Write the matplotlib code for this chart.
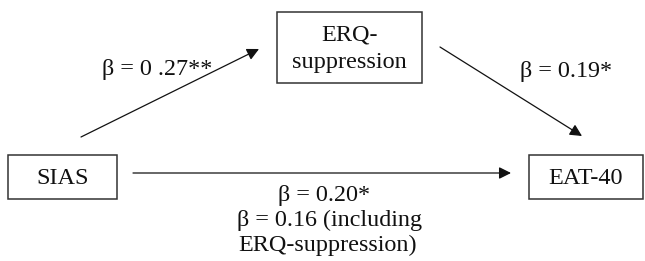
import matplotlib.pyplot as plt

# node labels and path coefficients
nodes = ["SIAS", "ERQ-\nsuppression", "EAT-40"]
beta_a = "0 .27**"
beta_b = "0.19*"
beta_c = "0.20*"
beta_c_prime = "0.16"
mediator_note = "(including\nERQ-suppression)"

plt.rcParams['font.family'] = ['Liberation Serif', 'DejaVu Serif']

fig = plt.figure(figsize=(6.45, 2.61), dpi=100)
ax = fig.add_axes([0, 0, 1, 1])
ax.set_xlim(0, 645)
ax.set_ylim(261, 0)
ax.axis('off')

# boxes: (x0, y0, x1, y1) in pixel coords
boxes = [(8, 155, 117, 199), (277, 12, 422, 83), (529, 155, 643, 199)]
for (x0, y0, x1, y1), name in zip(boxes, nodes):
    ax.add_patch(plt.Rectangle((x0, y0), x1 - x0, y1 - y0, fill=False,
                               ec='#333333', lw=1.1))
    ax.text((x0 + x1) / 2, (y0 + y1) / 2 + 1, name, ha='center', va='center',
            fontsize=17.5, linespacing=1.4, color='#111111')

arrow = dict(arrowstyle='-|>', mutation_scale=18, lw=0.9, color='#111111',
             shrinkA=0, shrinkB=0)
ax.annotate("", xy=(259, 49), xytext=(81, 137), arrowprops=arrow)
ax.annotate("", xy=(582, 136), xytext=(440, 47), arrowprops=arrow)
ax.annotate("", xy=(511, 173), xytext=(133, 173), arrowprops=arrow)

fs = 17.4
ax.text(102, 70, "β = " + beta_a, ha='left', va='center', fontsize=fs,
        color='#111111')
ax.text(520, 72, "β = " + beta_b, ha='left', va='center', fontsize=fs,
        color='#111111')
ax.text(324, 195, "β = " + beta_c, ha='center', va='center', fontsize=fs,
        color='#111111')
ax.text(330, 220, "β = " + beta_c_prime + " " + mediator_note.split("\n")[0],
        ha='center', va='center', fontsize=fs, color='#111111')
ax.text(328, 245, mediator_note.split("\n")[1], ha='center', va='center',
        fontsize=fs, color='#111111')

fig.savefig("out.png", dpi=100)
